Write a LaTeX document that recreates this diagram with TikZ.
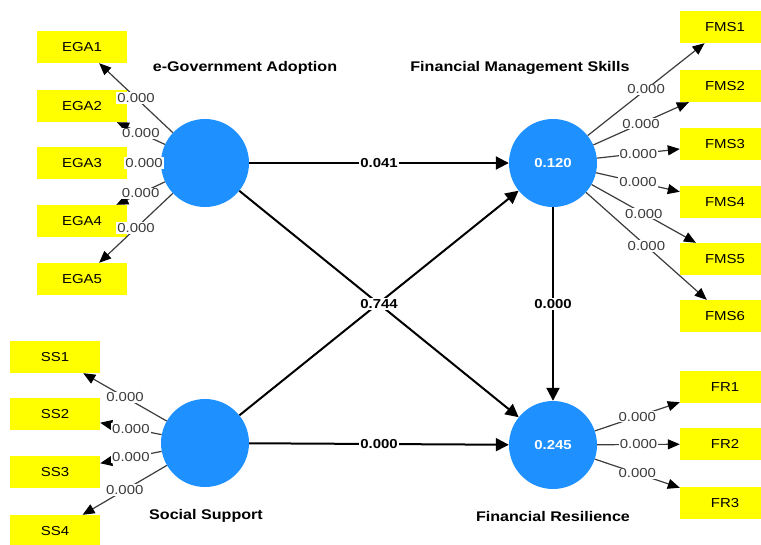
\documentclass[tikz,border=0pt]{standalone}
\usepackage{fontspec}
\setmainfont[FakeStretch=1.15]{Liberation Sans}
\usetikzlibrary{arrows.meta}
\definecolor{plsblue}{RGB}{30,144,255}
\definecolor{plsyellow}{RGB}{255,255,0}
\definecolor{loadgray}{RGB}{60,60,60}

\tikzset{
    latent/.style={circle,fill=plsblue,minimum size=88pt,inner sep=0pt,text=white,font=\fontsize{13}{15}\selectfont\bfseries},
    indicator/.style={rectangle,fill=plsyellow,minimum width=90pt,minimum height=32pt,inner sep=0pt,font=\fontsize{13}{15}\selectfont},
    lvtitle/.style={font=\fontsize{14}{16}\selectfont\bfseries},
    outer/.style={draw=loadgray,line width=1.2pt,-{Triangle[length=12pt,width=10pt,color=black]}},
    inner/.style={draw=black,line width=2pt,-{Triangle[length=13pt,width=13pt]}},
    loading/.style={fill=white,inner sep=1pt,text=loadgray,font=\fontsize{13}{15}\selectfont},
    coef/.style={fill=white,inner sep=1.5pt,font=\fontsize{13}{15}\selectfont\bfseries}
}

\begin{document}
\begin{tikzpicture}[x=1pt,y=-1pt]
    \useasboundingbox (0,0) rectangle (761,544);

    % latent variables
    \node[latent] (ega) at (205,163) {};
    \node[latent] (fms) at (553,163) {0.120};
    \node[latent] (ss) at (205,443) {};
    \node[latent] (fr) at (553,445) {0.245};

    \node[lvtitle] (egatitle) at (245,68) {e-Government Adoption};
    \node[lvtitle] (fmstitle) at (520,68) {Financial Management Skills};
    \node[lvtitle] (sstitle) at (206,516) {Social Support};
    \node[lvtitle] (frtitle) at (553,516) {Financial Resilience};

    % indicators
    \foreach \i/\y in {1/47,2/106,3/163,4/221,5/279}{
        \node[indicator] (ega\i) at (82,\y) {EGA\i};
    }
    \foreach \i/\y in {1/357,2/414,3/472,4/531}{
        \node[indicator] (ss\i) at (55,\y) {SS\i};
    }
    \foreach \i/\y in {1/27,2/86,3/144,4/202,5/259,6/316}{
        \node[indicator] (fms\i) at (725,\y) {FMS\i};
    }
    \foreach \i/\y in {1/387,2/444,3/503}{
        \node[indicator] (fr\i) at (725,\y) {FR\i};
    }

    % outer loadings
    \foreach \i in {1,...,5}{
        \draw[outer] (ega) -- node[loading]{0.000} (ega\i);
    }
    \foreach \i in {1,...,4}{
        \draw[outer] (ss) -- node[loading]{0.000} (ss\i);
    }
    \foreach \i in {1,...,6}{
        \draw[outer] (fms) -- node[loading]{0.000} (fms\i);
    }
    \foreach \i in {1,...,3}{
        \draw[outer] (fr) -- node[loading]{0.000} (fr\i);
    }

    % structural paths
    \draw[inner] (ss) -- (fms);
    \draw[inner] (ega) -- node[coef]{0.041} (fms);
    \draw[inner] (ega) -- node[coef]{0.744} (fr);
    \draw[inner] (fms) -- node[coef]{0.000} (fr);
    \draw[inner] (ss) -- node[coef]{0.000} (fr);
\end{tikzpicture}
\end{document}
